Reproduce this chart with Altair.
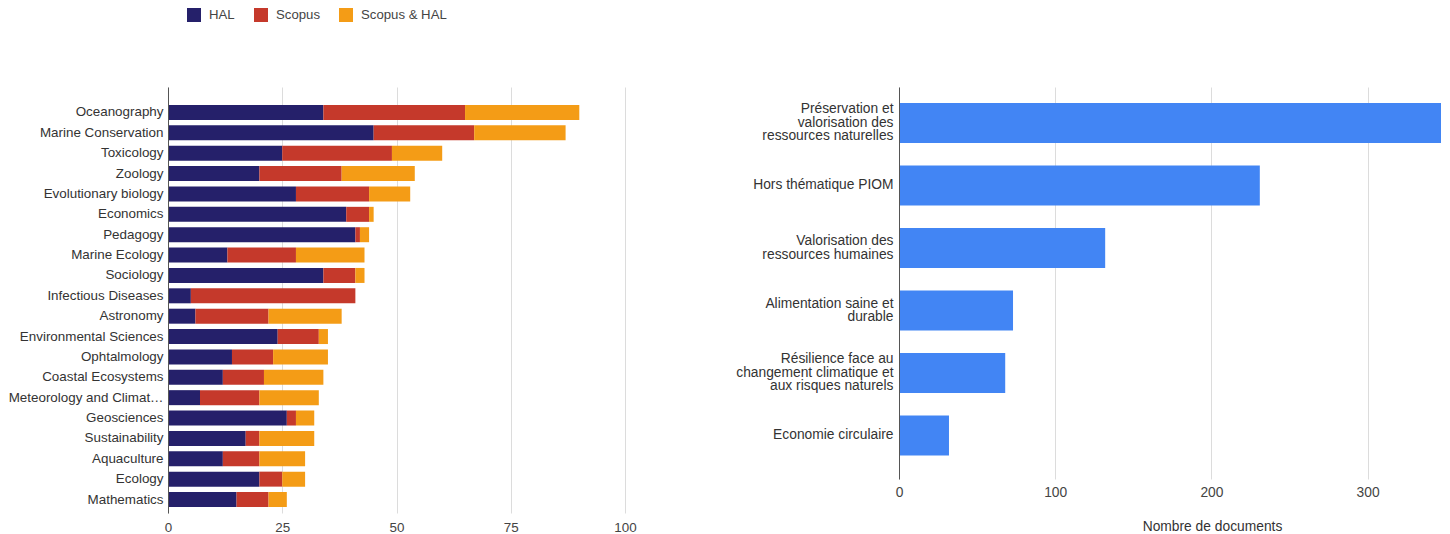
import altair as alt
import pandas as pd

FONT = "Liberation Sans"

subjects = [
    "Oceanography", "Marine Conservation", "Toxicology", "Zoology",
    "Evolutionary biology", "Economics", "Pedagogy", "Marine Ecology",
    "Sociology", "Infectious Diseases", "Astronomy", "Environmental Sciences",
    "Ophtalmology", "Coastal Ecosystems", "Meteorology and Climat…",
    "Geosciences", "Sustainability", "Aquaculture", "Ecology", "Mathematics",
]
hal = [34, 45, 25, 20, 28, 39, 41, 13, 34, 5, 6, 24, 14, 12, 7, 26, 17, 12, 20, 15]
scopus = [31, 22, 24, 18, 16, 5, 1, 15, 7, 36, 16, 9, 9, 9, 13, 2, 3, 8, 5, 7]
scopus_hal = [25, 20, 11, 16, 9, 1, 2, 15, 2, 0, 16, 2, 12, 13, 13, 4, 12, 10, 5, 4]
series = ["HAL", "Scopus", "Scopus & HAL"]
series_colors = ["#25206a", "#c5392b", "#f49c16"]

themes = [
    "Préservation et\nvalorisation des\nressources naturelles",
    "Hors thématique PIOM",
    "Valorisation des\nressources humaines",
    "Alimentation saine et\ndurable",
    "Résilience face au\nchangement climatique et\naux risques naturels",
    "Economie circulaire",
]
docs = [347, 231, 132, 73, 68, 32]
left_ticks = [0, 25, 50, 75, 100]
right_ticks = [0, 100, 200, 300]

rows = []
for i, s in enumerate(subjects):
    for k, (name, vals) in enumerate(zip(series, [hal, scopus, scopus_hal])):
        rows.append({"subject": s, "source": name, "n": vals[i], "k": k})
df1 = pd.DataFrame(rows)
df2 = pd.DataFrame({"theme": themes, "docs": docs})

LH = 13.5
nlines = "length(split(datum.value, '\\n'))"
label_shift = {
    "condition": [
        {"test": f"{nlines} == 3", "value": -LH},
        {"test": f"{nlines} == 2", "value": -LH / 2},
    ],
    "value": 0,
}

left = alt.Chart(df1).mark_bar().encode(
    y=alt.Y(
        "subject:N", sort=subjects, title=None,
        scale=alt.Scale(paddingInner=0.264, paddingOuter=0.589, align=0.75),
        axis=alt.Axis(ticks=False, domain=True, domainColor="#555", grid=False,
                      labelPadding=5, labelFontSize=13.4, labelColor="#333",
                      labelFont=FONT, zindex=1),
    ),
    x=alt.X(
        "n:Q", stack="zero", title=None,
        scale=alt.Scale(domain=[0, 100], nice=False),
        axis=alt.Axis(values=left_ticks, ticks=False, domain=False, grid=True,
                      gridColor="#dcdcdc", labelPadding=7, labelFontSize=13.4,
                      labelColor="#444", labelFont=FONT, labelFlush=False),
    ),
    color=alt.Color(
        "source:N",
        scale=alt.Scale(domain=series, range=series_colors),
        legend=alt.Legend(orient="none", legendX=19, legendY=-79,
                          direction="horizontal", title=None,
                          symbolType="square", symbolSize=196,
                          symbolStrokeWidth=0, symbolOpacity=1,
                          labelFontSize=13.2, labelColor="#444",
                          labelFont=FONT, columnPadding=19, labelOffset=8),
    ),
    order=alt.Order("k:Q"),
).properties(width=457, height=426)

right = alt.Chart(df2).mark_bar(color="#4285f4").encode(
    y=alt.Y(
        "theme:N", sort=themes, title=None,
        scale=alt.Scale(paddingInner=0.36, paddingOuter=0.316, align=0.405),
        axis=alt.Axis(ticks=False, domain=True, domainColor="#555", grid=False,
                      labelPadding=6, labelFontSize=13.8, labelColor="#333",
                      labelFont=FONT, labelLineHeight=LH,
                      labelExpr="split(datum.value, '\\n')", zindex=1,
                      labelOffset=label_shift),
    ),
    x=alt.X(
        "docs:Q", title="Nombre de documents",
        scale=alt.Scale(domain=[0, 347], nice=False),
        axis=alt.Axis(values=right_ticks, ticks=False, domain=False, grid=True,
                      gridColor="#dcdcdc", labelPadding=6, labelFontSize=13.8,
                      labelColor="#444", labelFont=FONT, labelFlush=False,
                      titleFont=FONT, titleFontSize=13.8, titleFontWeight="normal",
                      titleColor="#333", titleX=313, titleAlign="center",
                      titlePadding=21),
    ),
).properties(width=542, height=392)

chart = alt.hconcat(left, right, spacing=98).properties(
    padding={"left": 0, "top": 0, "right": 0, "bottom": 0}
).configure_view(stroke=None)

chart.save("out.html", embed_options={"renderer": "svg", "actions": False})
